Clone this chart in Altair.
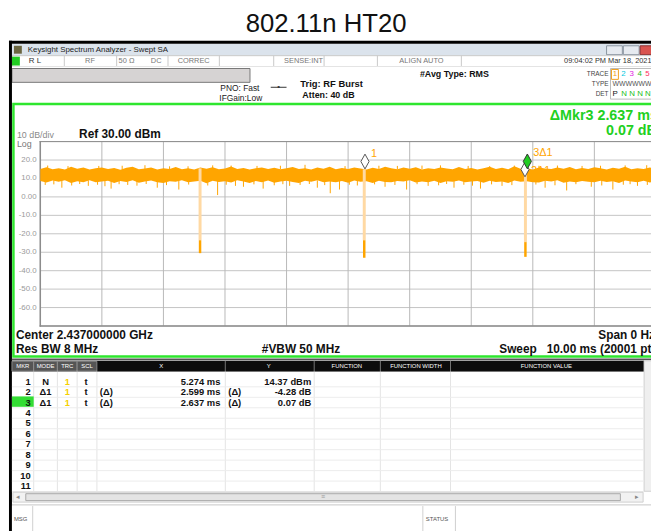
import altair as alt
import pandas as pd

# ---------------- data ----------------
grid_db = [30, 20, 10, 0, -10, -20, -30, -40, -50, -60, -70]
grid_ms = [0, 1, 2, 3, 4, 5, 6, 7, 8, 9, 10]
ylab_db = [20, 10, 0, -10, -20, -30, -40, -50, -60]
ylab_txt = ["20.0", "10.0", "0.00", "-10.0", "-20.0", "-30.0", "-40.0", "-50.0", "-60.0"]

# trace envelope (dB) sampled every 0.1 ms, 0..10 ms
band_hi = [15.2,16.1,15.0,15.6,14.8,16.4,15.3,15.9,14.9,15.5,
           16.0,15.1,15.7,14.7,15.8,16.3,15.0,15.4,16.0,14.9,
           15.6,15.2,16.2,15.0,15.5,14.8,15.9,15.3,16.1,15.0,
           15.4,16.5,15.1,15.7,14.9,15.6,16.0,15.2,15.8,15.0,
           15.5,16.2,15.1,15.6,14.8,15.9,15.3,16.4,15.0,15.7,
           15.2,16.0,15.4,14.9,15.8,15.1,16.3,15.5,15.0,15.9,
           15.3,16.1,14.8,15.6,15.2,16.0,15.4,15.0,16.2,15.1,
           15.7,14.9,15.5,16.3,15.2,15.8,15.0,16.6,15.3,15.6,
           14.9,16.0,15.4,15.1,15.9,15.3,16.2,15.0,15.7,15.2,
           16.1,15.5,14.9,15.8,15.3,16.4,15.0,15.6,15.2,16.0,15.4]
band_lo = [8.6,7.8,8.9,8.2,9.1,7.6,8.5,8.0,9.0,7.9,
           8.4,8.8,7.5,8.6,8.1,9.0,7.7,8.3,8.9,8.0,
           7.6,8.5,8.2,9.1,7.9,8.4,8.7,7.4,8.8,8.1,
           8.5,7.8,9.0,8.3,7.6,8.6,8.0,8.9,7.7,8.4,
           8.8,8.1,7.5,8.7,8.2,9.0,7.9,8.4,8.0,8.6,
           7.7,8.9,8.2,8.5,7.6,8.8,8.1,7.9,8.6,8.3,
           9.0,7.8,8.4,8.0,8.7,7.5,8.5,8.2,8.9,7.9,
           8.3,8.6,7.7,8.8,8.1,8.4,7.6,8.9,8.2,8.5,
           8.0,7.8,8.7,8.3,9.1,7.7,8.4,8.0,8.6,8.2,
           7.9,8.8,8.1,8.5,7.6,8.9,8.3,8.0,8.7,7.8,8.4]
band_t = [round(i * 0.1, 1) for i in range(len(band_hi))]

spike_t = [0.08, 0.22, 0.35, 0.51, 0.64, 0.78, 0.93, 1.05, 1.15, 1.28, 1.42, 1.57,
           1.72, 1.9, 2.05, 2.25, 2.41, 2.72, 2.88, 3.02, 3.17, 3.3, 3.47, 3.62,
           3.8, 3.94, 4.05, 4.22, 4.37, 4.5, 4.62, 4.71, 4.86, 5.02, 5.15, 5.43,
           5.6, 5.76, 5.95, 6.12, 6.3, 6.47, 6.6, 6.72, 6.88, 7.02, 7.15, 7.33,
           7.5, 7.66, 8.05, 8.2, 8.36, 8.55, 8.7, 8.95, 9.12, 9.3, 9.47, 9.58,
           9.7, 9.86]
spike_lo = [6.5, 6.8, 5.0, 6.2, 7.0, 6.0, 6.6, 5.8, 4.5, 6.9, 6.5, 6.1,
            7.0, 5.0, 6.4, 4.0, 6.7, 6.2, 1.0, 6.6, 6.0, 5.5, 6.8, 4.5,
            6.3, 6.9, 6.0, 6.5, 7.0, 5.0, 6.4, 2.0, 4.0, 6.6, 6.2, 6.8,
            5.5, 6.5, 4.0, 6.9, 6.0, 6.3, 7.0, 5.0, 6.6, 6.1, 4.5, 6.8,
            6.0, 6.4, 6.7, 5.0, 6.3, 3.5, 6.9, 5.5, 6.2, 4.0, 6.6, 6.9,
            6.0, 6.5]
up_t = [0.12, 0.45, 0.95, 1.33, 1.7, 2.1, 2.4, 2.8, 3.1, 3.52, 3.9, 4.3,
        4.95, 5.5, 5.8, 6.2, 6.5, 6.95, 7.3, 7.7, 8.1, 8.4, 8.8, 9.1, 9.5, 9.85]
up_hi = [17.0, 16.7, 16.8, 16.9, 17.2, 16.6, 16.6, 17.1, 17.0, 16.8, 16.9, 17.4,
         16.7, 16.9, 16.8, 17.0, 17.1, 16.8, 16.7, 17.0, 16.9, 17.0, 16.8, 16.9, 17.1, 17.2]

dip_t = [2.595, 5.262, 7.880]
dip_top = [15.5, 15.0, 15.0]
dip_mid = [-23.5, -23.5, -24.5]
dip_floor = [-30.5, -33.0, -32.5]

mkr_id = [1, 2, 3]
mkr_t = [5.274, 7.873, 7.911]
mkr_db = [14.37, 10.09, 14.44]
mkr_lbl = ["1", "2Δ1", "3Δ1"]

tbl_rows = [1, 2, 3, 4, 5, 6, 7, 8, 9, 10, 11]
tbl_mode = ["N", "Δ1", "Δ1"]
tbl_trc = ["1", "1", "1"]
tbl_scl = ["t", "t", "t"]
tbl_xd = ["", "(Δ)", "(Δ)"]
tbl_x = ["5.274 ms", "2.599 ms", "2.637 ms"]
tbl_yd = ["", "(Δ)", "(Δ)"]
tbl_y = ["14.37 dBm", "-4.28 dB", "0.07 dB"]

# ---------------- helpers ----------------
O = 8
FONT = "Liberation Sans"
GREEN = "#2ee62e"
ORANGE = "#ffa500"
one = pd.DataFrame({"k": [0]})
layers = []


def P(v):
    return v - O


def txt(s, x, y, size=8, color="#000", weight="normal", align="left", font=FONT):
    layers.append(alt.Chart(one).mark_text(text=s, fontSize=size, color=color, fontWeight=weight,
                                           align=align, baseline="middle", font=font)
                  .encode(x=alt.value(P(x)), y=alt.value(P(y))))


def box(x1, y1, x2, y2, fill="transparent", stroke=None, sw=1.0):
    kw = dict(fill=fill)
    if stroke:
        kw.update(stroke=stroke, strokeWidth=sw)
    else:
        kw.update(strokeWidth=0)
    layers.append(alt.Chart(one).mark_rect(**kw).encode(
        x=alt.value(P(x1)), x2=alt.value(P(x2)), y=alt.value(P(y1)), y2=alt.value(P(y2))))


def hline(x1, x2, y, color, sw=1.0):
    layers.append(alt.Chart(one).mark_rule(color=color, strokeWidth=sw).encode(
        x=alt.value(P(x1)), x2=alt.value(P(x2)), y=alt.value(P(y))))


def vline(x, y1, y2, color, sw=1.0):
    layers.append(alt.Chart(one).mark_rule(color=color, strokeWidth=sw).encode(
        x=alt.value(P(x)), y=alt.value(P(y1)), y2=alt.value(P(y2))))


# ---------------- page title ----------------
txt("802.11n HT20", 330, 21, size=26, color="#111", align="center")

# ---------------- window chrome ----------------
box(12, 41, 670, 53, fill="#dbe3ec")
box(14, 43, 22, 51, fill="#6b6640")
txt("Keysight Spectrum Analyzer - Swept SA", 28, 47, size=8, color="#222")
box(614, 43, 630, 52, fill="#e6eaf0", stroke="#8a94a0")
box(631, 43, 647, 52, fill="#e6eaf0", stroke="#8a94a0")
box(648, 43, 668, 52, fill="#d9534f", stroke="#8a3030")

box(12, 53, 670, 64, fill="white", stroke="#c8c8c8")
box(12, 54, 20, 63, fill="#22cc22")
for xv in [65, 118, 170, 222, 277, 328, 382, 467]:
    vline(xv, 53, 64, "#c8c8c8")
txt("R L", 29, 58.5, size=8, color="#333")
txt("RF", 91, 58.5, size=7.5, color="#777", align="center")
txt("50 Ω", 128, 58.5, size=7.5, color="#777", align="center")
txt("DC", 158, 58.5, size=7.5, color="#777", align="center")
txt("CORREC", 196, 58.5, size=7.5, color="#777", align="center")
txt("SENSE:INT", 327, 58.5, size=7.5, color="#777", align="right")
txt("ALIGN AUTO", 449, 58.5, size=7.5, color="#777", align="right")
txt("09:04:02 PM Mar 18, 2021", 571, 58.5, size=7.5, color="#333")

box(12, 64, 670, 101, fill="white")
box(12, 66, 253, 80, fill="#d6d3d3", stroke="#777")
txt("PNO: Fast", 223, 86, size=8.5, color="#222")
txt("IFGain:Low", 222, 96, size=8.5, color="#222")
hline(274, 290, 85, "#333")
txt("•", 282, 85, size=8, color="#333", align="center")
txt("Trig: RF Burst", 304, 82, size=9.5, weight="bold", color="#111")
txt("Atten: 40 dB", 306, 93, size=9, weight="bold", color="#111")
txt("#Avg Type: RMS", 425, 72, size=9, weight="bold", color="#111")
txt("TRACE", 616, 72, size=6.5, color="#444", align="right")
txt("TYPE", 616, 82, size=6.5, color="#444", align="right")
txt("DET", 616, 92, size=6.5, color="#444", align="right")
box(618, 66, 670, 97, fill="white", stroke="#bbb")
box(619, 67, 626, 77, fill="white", stroke="#f0a020")
txt("1", 622.5, 72, size=8, color="#f0a020", align="center")
txt("2", 631, 72, size=8, color="#00c8e0", align="center")
txt("3", 639.5, 72, size=8, color="#e020e0", align="center")
txt("4", 647.5, 72, size=8, color="#20c020", align="center")
txt("5", 655.5, 72, size=8, color="#ff3060", align="center")
txt("WWWWWW", 620, 82, size=7, color="#555")
txt("P", 620, 92, size=8, color="#111")
txt("N N N N", 629, 92, size=8, color="#20c020")

# window frame
vline(10.5, 38, 540, "#000", 3)
hline(9, 670, 39.5, "#000", 3)

# ---------------- plot panel ----------------
box(13.5, 102, 680, 357.5, fill="white", stroke=GREEN, sw=2.5)
txt("ΔMkr3 2.637 ms", 666, 114, size=14.5, weight="bold", color="#22d022", align="right")
txt("0.07 dB", 665, 129.5, size=14.5, weight="bold", color="#22d022", align="right")
txt("10 dB/div", 17, 133, size=9, color="#8a8a8a")
txt("Log", 17, 142, size=9, color="#777")
txt("Ref 30.00 dBm", 80, 132, size=12, weight="bold", color="#111")

xs = alt.Scale(domain=[0, 10], range=[P(40.7), P(664)])
ys = alt.Scale(domain=[-70, 30], range=[P(326.7), P(140)])

gy = pd.DataFrame({"v": grid_db})
gx = pd.DataFrame({"v": grid_ms})
layers.append(alt.Chart(gy).mark_rule(color="#c4c4c4", strokeWidth=1).encode(
    y=alt.Y("v:Q", scale=ys, axis=None), x=alt.value(P(40.7)), x2=alt.value(P(664))))
layers.append(alt.Chart(gx).mark_rule(color="#b8b8b8", strokeWidth=1).encode(
    x=alt.X("v:Q", scale=xs, axis=None), y=alt.value(P(140)), y2=alt.value(P(326.7))))
vline(40.7, 139.5, 327.5, "#8c8c8c", 1.5)
hline(40, 664, 140, "#8c8c8c", 1)
hline(40, 664, 326.7, "#8c8c8c", 1.5)

yl = pd.DataFrame({"v": ylab_db, "s": ylab_txt})
layers.append(alt.Chart(yl).mark_text(align="right", baseline="middle", fontSize=8, color="#9a9a9a", font=FONT).encode(
    y=alt.Y("v:Q", scale=ys, axis=None), x=alt.value(P(37)), text="s:N"))

# trace
band = pd.DataFrame({"t": band_t, "hi": band_hi, "lo": band_lo})
layers.append(alt.Chart(band).mark_area(color=ORANGE, opacity=1).encode(
    x=alt.X("t:Q", scale=xs, axis=None), y=alt.Y("hi:Q", scale=ys, axis=None), y2="lo:Q"))
spk = pd.DataFrame({"t": spike_t, "lo": spike_lo})
layers.append(alt.Chart(spk).mark_rule(color=ORANGE, strokeWidth=1).encode(
    x=alt.X("t:Q", scale=xs, axis=None), y=alt.Y("lo:Q", scale=ys, axis=None), y2=alt.datum(9)))
upk = pd.DataFrame({"t": up_t, "hi": up_hi})
layers.append(alt.Chart(upk).mark_rule(color=ORANGE, strokeWidth=1).encode(
    x=alt.X("t:Q", scale=xs, axis=None), y=alt.Y("hi:Q", scale=ys, axis=None), y2=alt.datum(15)))

dips = pd.DataFrame({"t": dip_t, "top": dip_top, "mid": dip_mid, "floor": dip_floor})
layers.append(alt.Chart(dips).mark_rule(color="#ffd9a3", strokeWidth=3).encode(
    x=alt.X("t:Q", scale=xs, axis=None), y=alt.Y("top:Q", scale=ys, axis=None), y2="mid:Q"))
layers.append(alt.Chart(dips).mark_rule(color=ORANGE, strokeWidth=2.5).encode(
    x=alt.X("t:Q", scale=xs, axis=None), y=alt.Y("mid:Q", scale=ys, axis=None), y2="floor:Q"))

# markers
mk = pd.DataFrame({"id": mkr_id, "t": mkr_t, "db": mkr_db, "lbl": mkr_lbl})
DIAMOND = "M0,-1L0.55,0L0,1L-0.55,0Z"
layers.append(alt.Chart(mk).transform_filter(alt.datum.id == 2).mark_text(
    align="left", baseline="middle", fontSize=11, color=ORANGE, font=FONT, dx=6, dy=-7).encode(
    x=alt.X("t:Q", scale=xs, axis=None), y=alt.Y("db:Q", scale=ys, axis=None), text="lbl:N"))
layers.append(alt.Chart(mk).transform_filter(alt.datum.id < 3).mark_point(
    shape=DIAMOND, size=225, filled=True, fill="white", stroke="#555", strokeWidth=1, opacity=1, yOffset=-9).encode(
    x=alt.X("t:Q", scale=xs, axis=None), y=alt.Y("db:Q", scale=ys, axis=None)))
layers.append(alt.Chart(mk).transform_filter(alt.datum.id == 3).mark_point(
    shape=DIAMOND, size=225, filled=True, fill="#22cc22", stroke="#333", strokeWidth=1, opacity=1, yOffset=-9).encode(
    x=alt.X("t:Q", scale=xs, axis=None), y=alt.Y("db:Q", scale=ys, axis=None)))
layers.append(alt.Chart(mk).transform_filter(alt.datum.id != 2).mark_text(
    align="left", baseline="middle", fontSize=11, color=ORANGE, font=FONT, dx=6, dy=-17).encode(
    x=alt.X("t:Q", scale=xs, axis=None), y=alt.Y("db:Q", scale=ys, axis=None), text="lbl:N"))

# bottom annotations
txt("Center 2.437000000 GHz", 16, 336, size=12, weight="bold", color="#111")
txt("Res BW 8 MHz", 16, 350, size=12, weight="bold", color="#111")
txt("#VBW 50 MHz", 265, 350, size=12, weight="bold", color="#111")
txt("Span 0 Hz", 663, 336, size=12, weight="bold", color="#111", align="right")
txt("Sweep\u00a0\u00a0\u00a010.00 ms (20001 pts)", 670, 350, size=12, weight="bold", color="#111", align="right")

# ---------------- marker table ----------------
hline(12, 670, 360.5, "#555", 2)
box(12, 362, 652, 373, fill="#0c0c0c")
for (a, b) in [(12, 34), (34, 58), (58, 78), (78, 98)]:
    box(a, 362.5, b, 372.5, fill="#555", stroke="#999", sw=0.8)
for xv in [228, 318, 385, 456]:
    vline(xv, 362, 373, "#777")
hdr = [("MKR", 23), ("MODE", 46), ("TRC", 68), ("SCL", 88), ("X", 163), ("Y", 272),
       ("FUNCTION", 351), ("FUNCTION WIDTH", 421), ("FUNCTION VALUE", 553)]
for s, xv in hdr:
    txt(s, xv, 367.5, size=6, color="white", align="center")
box(12, 373, 652, 494, fill="white")
box(652, 362, 670, 494, fill="#efefef", stroke="#cfcfcf")
for xv in [34, 58, 78, 98, 228, 318, 385, 456]:
    vline(xv, 373, 494, "#e4e4e4")

rs = alt.Scale(domain=[1, 11], range=[P(383), P(489)])
edges = pd.DataFrame({"r": [v + 0.5 for v in tbl_rows]})
layers.append(alt.Chart(edges).mark_rule(color="#ececec", strokeWidth=1).encode(
    y=alt.Y("r:Q", scale=rs, axis=None), x=alt.value(P(12)), x2=alt.value(P(652))))
box(12, 398, 34, 408.5, fill="#33dd33")

rows = pd.DataFrame({"r": tbl_rows, "s": [str(v) for v in tbl_rows]})
layers.append(alt.Chart(rows).mark_text(align="right", baseline="middle", fontSize=9.5, fontWeight="bold",
                                        color="#111", font=FONT).encode(
    y=alt.Y("r:Q", scale=rs, axis=None), x=alt.value(P(31)), text="s:N"))
tb = pd.DataFrame({"r": tbl_rows[:3], "mode": tbl_mode, "trc": tbl_trc, "scl": tbl_scl,
                   "xd": tbl_xd, "x": tbl_x, "yd": tbl_yd, "y": tbl_y})
cols = [("mode", 46, "center", "#111"), ("trc", 68, "center", "#f5d000"), ("scl", 87, "center", "#111"),
        ("xd", 101, "left", "#111"), ("x", 223, "right", "#111"), ("yd", 231, "left", "#111"),
        ("y", 315, "right", "#111")]
for f, xv, al, col in cols:
    layers.append(alt.Chart(tb).mark_text(align=al, baseline="middle", fontSize=9.5, fontWeight="bold",
                                          color=col, font=FONT).encode(
        y=alt.Y("r:Q", scale=rs, axis=None), x=alt.value(P(xv)), text=f"{f}:N"))

# scrollbars and message bar
box(13, 495, 651, 505, fill="#f2f2f2", stroke="#cfcfcf")
box(26, 496.5, 628, 503.5, fill="#e4e4e4", stroke="#a8a8a8")
txt("◂", 18, 500, size=7, color="#888", align="center")
txt("▸", 645, 500, size=7, color="#888", align="center")
txt("≡", 327, 500, size=7, color="#999", align="center")
hline(12, 670, 508, "#b0b0b0")
box(12, 508.5, 670, 540, fill="white")
vline(33, 509, 540, "#cfcfcf")
vline(428, 509, 540, "#cfcfcf")
vline(461, 509, 540, "#cfcfcf")
txt("MSG", 14, 522, size=6, color="#555")
txt("STATUS", 431, 522, size=6, color="#555")

chart = alt.layer(*layers).resolve_scale(x="independent", y="independent").properties(
    width=651, height=523, padding=0, autosize=alt.AutoSizeParams(type="none")
).configure_view(stroke=None)

chart.save("out.html", embed_options={"renderer": "svg", "actions": False})
